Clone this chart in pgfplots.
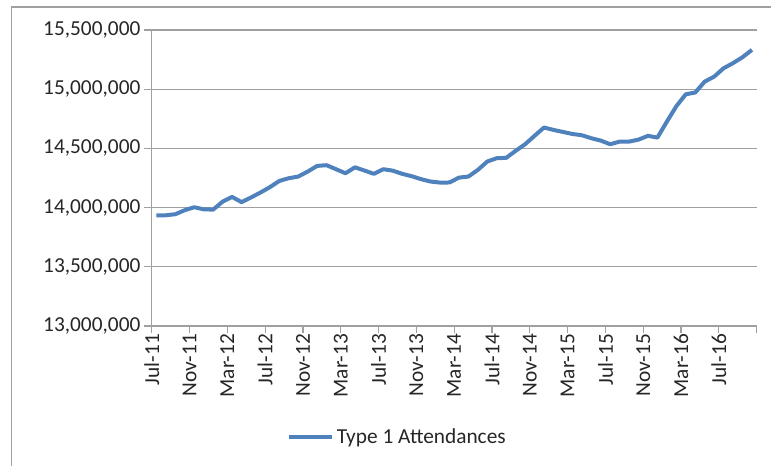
\documentclass[border=0pt]{standalone}
\usepackage{fontspec}
\setmainfont{Carlito}
\usepackage{pgfplots}
\pgfplotsset{compat=1.18}
\definecolor{serieblue}{HTML}{4F81BD}
\definecolor{gridgray}{HTML}{A0A0A0}
\definecolor{labelgray}{HTML}{262626}
\newcommand{\chartfont}{\fontsize{16}{19}\selectfont}
\begin{document}
\begin{tikzpicture}[x=1pt,y=1pt]
\useasboundingbox (-113.8,-105) rectangle (464.5,244.5);
% chart area border (left and top edges only are in frame)
\draw[gridgray, line width=0.9pt] (-105.2,-200) -- (-105.2,239.25) -- (700,239.25);
\begin{axis}[
    at={(0,0)}, anchor=south west,
    scale only axis,
    width=453.75pt,
    height=222pt,
    xmin=0, xmax=64,
    ymin=13000000, ymax=15500000,
    axis x line=bottom,
    axis y line=left,
    axis line style={-, draw=gridgray, line width=0.9pt},
    tick align=outside,
    major tick length=5.5pt,
    tick style={draw=gridgray, line width=0.9pt},
    ymajorgrids=true,
    grid style={draw=gridgray, line width=0.9pt},
    ytick={13000000,13500000,14000000,14500000,15000000,15500000},
    scaled y ticks=false,
    yticklabel style={
        font=\chartfont, color=labelgray, xshift=0.5pt,
        /pgf/number format/.cd, fixed, precision=0, 1000 sep={,},
        assume math mode=true
    },
    xtick={0,4,...,64},
    xticklabels={Jul-11,Nov-11,Mar-12,Jul-12,Nov-12,Mar-13,Jul-13,Nov-13,Mar-14,Jul-14,Nov-14,Mar-15,Jul-15,Nov-15,Mar-16,Jul-16,{}},
    xticklabel style={font=\chartfont, color=labelgray, rotate=90, anchor=east, xshift=3pt},
    legend style={
        at={(0.407,-0.375)}, anchor=center,
        draw=none, fill=none,
        font=\chartfont, text=labelgray,
    },
    legend image code/.code={\draw[#1] (0pt,0pt) -- (32pt,0pt);},
    clip=false,
]
\addplot[serieblue, line width=3pt, line join=round, mark=none] coordinates {
    (0.5,13935000) (1.5,13935000) (2.5,13944000) (3.5,13978000)
    (4.5,14003000) (5.5,13985000) (6.5,13983000) (7.5,14050000)
    (8.5,14090000) (9.5,14046000) (10.5,14085000) (11.5,14127000)
    (12.5,14172000) (13.5,14225000) (14.5,14248000) (15.5,14262000)
    (16.5,14304000) (17.5,14352000) (18.5,14358000) (19.5,14324000)
    (20.5,14290000) (21.5,14340000) (22.5,14313000) (23.5,14285000)
    (24.5,14324000) (25.5,14312000) (26.5,14285000) (27.5,14265000)
    (28.5,14240000) (29.5,14220000) (30.5,14211000) (31.5,14212000)
    (32.5,14253000) (33.5,14262000) (34.5,14318000) (35.5,14389000)
    (36.5,14417000) (37.5,14420000) (38.5,14479000) (39.5,14535000)
    (40.5,14606000) (41.5,14676000) (42.5,14656000) (43.5,14639000)
    (44.5,14622000) (45.5,14611000) (46.5,14586000) (47.5,14566000)
    (48.5,14535000) (49.5,14557000) (50.5,14557000) (51.5,14574000)
    (52.5,14606000) (53.5,14591000) (54.5,14726000) (55.5,14856000)
    (56.5,14957000) (57.5,14972000) (58.5,15064000) (59.5,15106000)
    (60.5,15177000) (61.5,15220000) (62.5,15270000) (63.5,15332000)
};
\legend{Type 1 Attendances}
\end{axis}
\end{tikzpicture}
\end{document}
